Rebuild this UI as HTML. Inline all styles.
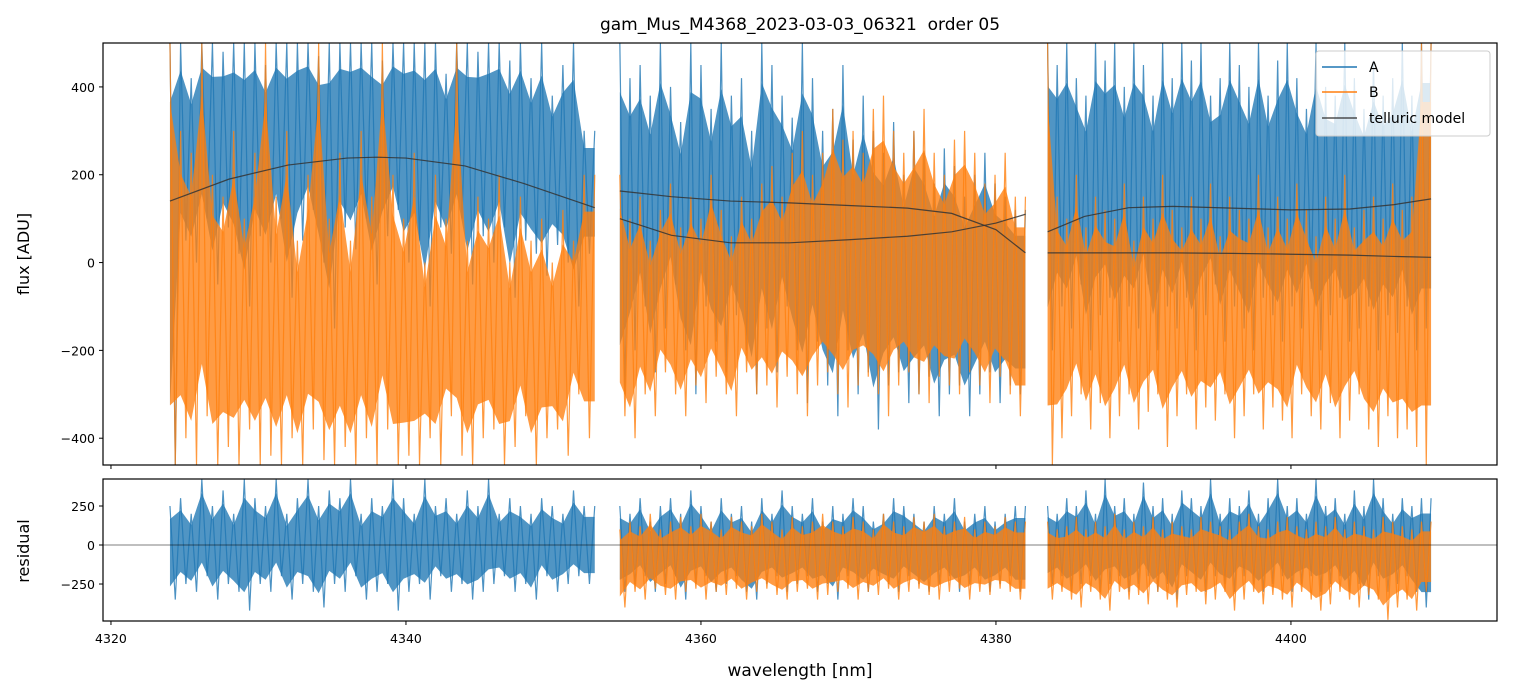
<!DOCTYPE html>
<html><head><meta charset="utf-8">
<style>
body{margin:0;background:#fff;}
svg{display:block;font-family:"DejaVu Sans","Liberation Sans",sans-serif;}
</style></head>
<body>
<svg id="chart" width="1513" height="696" xmlns="http://www.w3.org/2000/svg">
<rect width="1513" height="696" fill="#fff"/>
<text x="800" y="30" font-size="17" text-anchor="middle" style="white-space:pre">gam_Mus_M4368_2023-03-03_06321  order 05</text>
<g id="topPanel"></g>
<g id="botPanel"></g>
</svg>
<script>
// ---- data ----
const segments = [[4324.0, 4352.8], [4354.5, 4382.0], [4383.5, 4409.5]];
const fluxAHi = [
 [500,500,420,500,500,480,500,500,500,450,500,500,500,500,470,500,500,500,500,500,460,500,500,500,500,500,430,500,500,480,500,500,460,500,420,500,380,450,500,300],
 [500,420,450,380,500,400,320,500,450,350,500,380,420,300,500,450,380,330,500,420,300,350,450,280,380,300,250,320,200,300,250,180,260,220,150,200,250,180,150,120],
 [500,450,500,420,380,500,460,500,400,500,450,380,500,420,500,460,500,380,420,500,450,400,500,380,460,500,420,350,500,400,380,500,420,350,460,380,420,500,380,500]];
const fluxALo = [
 [-460,50,0,100,-50,80,20,-100,60,0,100,-80,50,120,0,-150,80,30,100,-50,60,120,0,50,-100,80,20,100,-50,60,0,80,-80,50,20,-30,40,0,-100,20],
 [-300,-200,-100,-250,-150,-50,-200,-300,-100,-180,-250,-120,-200,-300,-150,-250,-100,-200,-320,-180,-280,-350,-200,-300,-250,-380,-280,-250,-320,-300,-260,-350,-300,-280,-350,-300,-250,-320,-280,-300],
 [-200,-100,-150,-50,-200,-120,-80,-180,-100,-150,-50,-200,-100,-150,-80,-200,-120,-50,-180,-100,-150,-200,-80,-120,-180,-100,-150,-60,-200,-120,-80,-180,-150,-100,-200,-120,-160,-100,-200,-150]];
const fluxBHi = [
 [500,300,250,500,200,150,300,100,250,500,150,300,50,200,500,100,250,50,300,150,500,200,100,250,0,200,100,500,50,150,100,200,0,150,50,100,0,120,50,200],
 [200,100,150,50,120,180,80,150,100,200,120,60,150,100,180,220,150,250,300,200,250,350,280,300,250,350,380,300,250,300,350,250,200,280,300,250,180,200,250,150],
 [500,150,100,200,80,150,120,100,180,50,150,100,200,120,80,150,100,180,60,150,120,100,200,80,150,100,180,120,60,150,100,200,80,120,150,100,180,120,150,500]];
const fluxBLo = [
 [-460,-400,-460,-350,-460,-420,-460,-380,-460,-440,-460,-400,-460,-380,-450,-460,-420,-460,-400,-460,-380,-460,-440,-460,-400,-460,-350,-440,-460,-400,-380,-460,-420,-350,-460,-400,-380,-440,-300,-400],
 [-350,-400,-300,-350,-250,-300,-350,-280,-320,-260,-300,-350,-250,-300,-280,-330,-260,-300,-350,-280,-250,-300,-330,-280,-260,-300,-350,-280,-250,-300,-320,-260,-280,-300,-250,-280,-320,-260,-300,-350],
 [-460,-400,-350,-300,-380,-320,-400,-350,-300,-380,-340,-300,-420,-350,-300,-380,-330,-360,-300,-400,-350,-300,-380,-330,-360,-400,-300,-350,-380,-320,-400,-360,-300,-380,-420,-350,-400,-380,-420,-460]];
const modelX = [
 [4324,4328,4332,4336,4338,4340,4344,4348,4352.8],
 [4354.5,4358,4362,4366,4370,4374,4377,4380,4382],
 [4354.5,4358,4362,4366,4370,4374,4377,4380,4382],
 [4383.5,4386,4389,4392,4396,4400,4404,4407,4409.5],
 [4383.5,4386,4389,4392,4396,4400,4404,4407,4409.5]];
const modelY = [
 [140,190,222,238,240,238,220,180,125],
 [163,150,140,136,130,124,112,75,22],
 [100,62,45,45,52,60,70,90,110],
 [70,105,125,128,124,120,122,132,145],
 [22,22,22,22,21,19,17,14,12]];
const resAHi = [
 [250,300,200,420,250,350,200,420,300,250,420,200,300,420,250,350,300,420,200,300,250,420,300,200,420,250,300,200,350,250,420,200,300,250,200,300,250,200,350,250],
 [250,200,300,150,250,300,200,350,250,150,300,200,250,150,300,200,350,250,200,300,150,250,200,300,250,150,200,300,250,200,150,250,200,300,150,200,250,150,200,250],
 [250,200,300,250,350,200,420,250,300,200,400,250,300,200,350,300,250,420,200,300,250,350,200,300,420,250,300,200,420,250,300,200,350,250,420,300,200,300,250,300]];
const resALo = [
 [-350,-250,-300,-200,-350,-250,-300,-420,-250,-300,-200,-350,-250,-300,-400,-250,-300,-200,-350,-300,-250,-420,-300,-250,-350,-200,-300,-250,-350,-300,-250,-200,-300,-250,-350,-200,-300,-250,-200,-250],
 [-300,-250,-200,-300,-250,-200,-350,-250,-200,-300,-250,-200,-300,-350,-250,-200,-300,-250,-200,-300,-250,-350,-200,-250,-300,-200,-250,-300,-200,-250,-300,-250,-200,-300,-250,-200,-300,-250,-200,-300],
 [-250,-200,-300,-250,-200,-300,-250,-200,-300,-250,-200,-300,-250,-350,-200,-250,-300,-200,-250,-300,-200,-250,-300,-250,-200,-300,-250,-200,-300,-250,-200,-300,-250,-350,-200,-300,-250,-200,-300,-400]];
const resBHi = [
 null,
 [100,150,120,200,100,150,180,120,200,150,100,180,150,120,200,150,100,180,120,150,200,150,120,180,150,100,200,150,120,180,150,200,120,150,180,100,150,120,180,150],
 [150,100,120,180,100,150,120,200,100,150,120,180,100,150,120,100,180,150,120,100,150,200,120,100,150,180,120,100,150,120,180,100,150,120,100,180,150,120,100,150]];
const resBLo = [
 null,
 [-400,-300,-350,-280,-320,-350,-300,-280,-350,-300,-320,-280,-350,-300,-280,-320,-350,-300,-280,-350,-320,-300,-280,-350,-300,-320,-280,-350,-300,-280,-320,-350,-300,-280,-350,-300,-320,-280,-300,-350],
 [-350,-300,-350,-400,-300,-350,-420,-300,-350,-320,-380,-300,-350,-400,-320,-300,-380,-350,-300,-420,-350,-300,-380,-320,-350,-400,-300,-350,-420,-380,-300,-350,-400,-320,-350,-480,-400,-350,-420,-300]];
const xTicks = [4320, 4340, 4360, 4380, 4400];
const fluxTicks = [400, 200, 0, -200, -400];
const resTicks = [250, 0, -250];

// ---- axes ----
const X0=103, X1=1497;
const xmin=4319.46, xmax=4413.97;
const sx = w => X0 + (w - xmin)/(xmax - xmin)*(X1 - X0);
const TP = {y0:43, y1:465, min:-461, max:500};
const BP = {y0:479, y1:621, min:-487, max:423};
const sy = (p, v) => { const c=Math.max(p.min,Math.min(p.max,v)); return p.y1 - (c - p.min)/(p.max - p.min)*(p.y1 - p.y0); };
const NS="http://www.w3.org/2000/svg";
function mk(tag, attrs, parent){ const e=document.createElementNS(NS,tag); for(const k in attrs) e.setAttribute(k, attrs[k]); parent.appendChild(e); return e; }
const blue="#1f77b4", orange="#ff7f0e";

function spiky(g, p, hiArr, loArr, color, name){
  segments.forEach((s, i) => {
    const hi = hiArr[i], lo = loArr[i];
    if(!hi) return;
    const n = hi.length;
    let pts=[], band=[], bandLo=[];
    const up = j => (hi[j] + lo[j])/2 + (hi[j]-lo[j])*0.36;
    const dn = j => (hi[j] + lo[j])/2 - (hi[j]-lo[j])*0.36;
    for(let j=0;j<n;j++){
      const w0 = s[0] + (s[1]-s[0])*j/n, w1 = s[0] + (s[1]-s[0])*(j+0.5)/n;
      pts.push(sx(w0)+","+sy(p,hi[j])); pts.push(sx(w1)+","+sy(p,lo[j]));
      band.push(sx(w0)+","+sy(p, up(j)));
      bandLo.unshift(sx(w0)+","+sy(p, dn(j)));
    }
    pts.push(sx(s[1])+","+sy(p,hi[n-1]));
    band.push(sx(s[1])+","+sy(p,up(n-1)));
    bandLo.unshift(sx(s[1])+","+sy(p,dn(n-1)));
    const b = mk("polygon",{points:band.concat(bandLo).join(" "),fill:color,opacity:0.78},g);
    
    
    const l = mk("polyline",{points:pts.join(" "),fill:"none",stroke:color,"stroke-width":1.2,opacity:0.8},g);
    
    
  });
}

function axesFrame(g, p, ticks, label, ly){
  ticks.forEach(t => {
    const y = sy(p,t);
    mk("line",{x1:X0-4,x2:X0,y1:y,y2:y,stroke:"#000"},g);
    const tx = mk("text",{x:X0-8,y:y+5,"font-size":12.5,"text-anchor":"end"},g);
    tx.textContent = t<0 ? "\u2212"+(-t) : t;
    
    
  });
  xTicks.forEach(t => { mk("line",{x1:sx(t),x2:sx(t),y1:p.y1,y2:p.y1+4,stroke:"#000"},g); });
  const yl = mk("text",{x:0,y:0,"font-size":16,"text-anchor":"middle",transform:`translate(29,${ly}) rotate(-90)`},g);
  yl.textContent = label;
  
  
}

const topG = document.getElementById("topPanel"), botG = document.getElementById("botPanel");
const defs = mk("defs",{},document.getElementById("chart"));
const c1 = mk("clipPath",{id:"ct"},defs); mk("rect",{x:X0,y:TP.y0,width:X1-X0,height:TP.y1-TP.y0},c1);
const c2 = mk("clipPath",{id:"cb"},defs); mk("rect",{x:X0,y:BP.y0,width:X1-X0,height:BP.y1-BP.y0},c2);
const gt = mk("g",{"clip-path":"url(#ct)"},topG);
const gb = mk("g",{"clip-path":"url(#cb)"},botG);

spiky(gt, TP, fluxAHi, fluxALo, blue, "series-a");
spiky(gt, TP, fluxBHi, fluxBLo, orange, "series-b");
modelX.forEach((xs,i) => {
  const pts = xs.map((w,j)=>sx(w)+","+sy(TP,modelY[i][j])).join(" ");
  const l = mk("polyline",{points:pts,fill:"none",stroke:"#333","stroke-width":1.2,opacity:0.85},gt);
  
  
});
spiky(gb, BP, resAHi, resALo, blue, "residual-a");
spiky(gb, BP, resBHi, resBLo, orange, "residual-b");
mk("line",{x1:X0,x2:X1,y1:sy(BP,0),y2:sy(BP,0),stroke:"#000","stroke-width":0.6},gb);

mk("rect",{x:X0,y:TP.y0,width:X1-X0,height:TP.y1-TP.y0,fill:"none",stroke:"#000","stroke-width":1.2},topG);
mk("rect",{x:X0,y:BP.y0,width:X1-X0,height:BP.y1-BP.y0,fill:"none",stroke:"#000","stroke-width":1.2},botG);
axesFrame(topG, TP, fluxTicks, "flux [ADU]", 254);
axesFrame(botG, BP, resTicks, "residual", 551);
xTicks.forEach(t => {
  const tx = mk("text",{x:sx(t),y:643,"font-size":12.5,"text-anchor":"middle"},botG);
  tx.textContent = t;
  
  
});
const xl = mk("text",{x:800,y:676,"font-size":17,"text-anchor":"middle"},botG);
xl.textContent = "wavelength [nm]";



// legend
const lg = mk("g",{},topG);


mk("rect",{x:1316,y:51,width:174,height:85,rx:3,fill:"#fff","fill-opacity":0.8,stroke:"#ccc"},lg);
[["A",blue,1,67],["B",orange,1,92],["telluric model","#333",0.85,118]].forEach(([n,c,o,y])=>{
  const e = mk("g",{},lg);
  
  
  mk("line",{x1:1322,x2:1357,y1:y,y2:y,stroke:c,"stroke-width":1.6,opacity:o},e);
  const t = mk("text",{x:1369,y:y+5,"font-size":14},e); t.textContent=n;
});
</script>
</body></html>
